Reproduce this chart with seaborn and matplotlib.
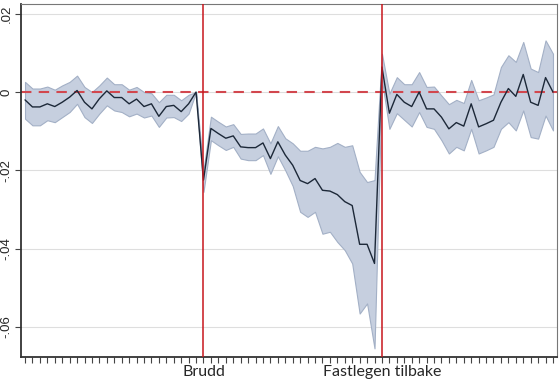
import numpy as np
import pandas as pd
import seaborn as sns
import matplotlib.pyplot as plt

# Event time: 24 periods before break, 24 without GP, 24 after GP returns
periods = list(range(-24, 48))

coef_pre = [-0.0020, -0.0038, -0.0038, -0.0030, -0.0037, -0.0026, -0.0013, 0.0004,
            -0.0026, -0.0043, -0.0017, 0.0003, -0.0014, -0.0014, -0.0030, -0.0018,
            -0.0037, -0.0030, -0.0062, -0.0037, -0.0034, -0.0050, -0.0030, 0.0]
coef_brudd = [-0.0225, -0.0093, -0.0106, -0.0118, -0.0112, -0.0140, -0.0142, -0.0142,
              -0.0130, -0.0170, -0.0127, -0.0161, -0.0187, -0.0226, -0.0234, -0.0221,
              -0.0251, -0.0253, -0.0262, -0.0280, -0.0290, -0.0389, -0.0389, -0.0438]
coef_etter = [0.0064, -0.0054, -0.0006, -0.0026, -0.0037, 0.0, -0.0043, -0.0043,
              -0.0064, -0.0094, -0.0078, -0.0087, -0.0030, -0.0089, -0.0081, -0.0072,
              -0.0026, 0.0009, -0.0011, 0.0045, -0.0026, -0.0034, 0.0037, 0.0]

upper_pre = [0.0026, 0.0009, 0.0009, 0.0014, 0.0006, 0.0017, 0.0026, 0.0042,
             0.0013, 0.0, 0.0017, 0.0037, 0.0020, 0.0020, 0.0006, 0.0013,
             0.0, -0.0003, -0.0026, -0.0007, -0.0007, -0.0021, -0.0007, 0.0]
upper_brudd = [-0.0200, -0.0063, -0.0076, -0.0088, -0.0082, -0.0107, -0.0106, -0.0106,
               -0.0093, -0.0131, -0.0087, -0.0118, -0.0131, -0.0150, -0.0150, -0.0140,
               -0.0144, -0.0140, -0.0130, -0.0140, -0.0136, -0.0204, -0.0230, -0.0225]
upper_etter = [0.0098, -0.0004, 0.0038, 0.0020, 0.0020, 0.0051, 0.0013, 0.0014,
               -0.0009, -0.0031, -0.0020, -0.0028, 0.0031, -0.0021, -0.0014, -0.0006,
               0.0064, 0.0094, 0.0077, 0.0128, 0.0060, 0.0051, 0.0132, 0.0098]

lower_pre = [-0.0068, -0.0085, -0.0085, -0.0072, -0.0077, -0.0064, -0.0051, -0.0030,
             -0.0064, -0.0079, -0.0055, -0.0034, -0.0047, -0.0051, -0.0062, -0.0055,
             -0.0065, -0.0060, -0.0089, -0.0065, -0.0064, -0.0074, -0.0055, 0.0]
lower_brudd = [-0.0255, -0.0123, -0.0136, -0.0148, -0.0140, -0.0170, -0.0174, -0.0174,
               -0.0161, -0.0209, -0.0164, -0.0200, -0.0240, -0.0306, -0.0319, -0.0306,
               -0.0362, -0.0357, -0.0383, -0.0404, -0.0438, -0.0566, -0.0540, -0.0655]
lower_etter = [0.0030, -0.0094, -0.0054, -0.0071, -0.0088, -0.0051, -0.0089, -0.0094,
               -0.0123, -0.0157, -0.0140, -0.0149, -0.0094, -0.0157, -0.0149, -0.0140,
               -0.0094, -0.0077, -0.0098, -0.0047, -0.0115, -0.0119, -0.0060, -0.0098]

event_ticks = [0, 24]
event_labels = ['Brudd', 'Fastlegen tilbake']
ytick_vals = [-0.06, -0.04, -0.02, 0, 0.02]
ytick_labels = ['-.06', '-.04', '-.02', '0', '.02']

df = pd.DataFrame({
    'period': periods,
    'coef': coef_pre + coef_brudd + coef_etter,
    'upper': upper_pre + upper_brudd + upper_etter,
    'lower': lower_pre + lower_brudd + lower_etter,
})

sns.set_style('white')
plt.rcParams['font.family'] = ['Lato', 'DejaVu Sans']

fig = plt.figure(figsize=(5.59, 3.83), dpi=100)
ax = fig.add_axes([21 / 559, 1 - 357 / 383, 536 / 559, 353 / 383])

# grid lines
for v in ytick_vals:
    ax.axhline(v, color='#dedede', lw=0.8, zorder=0)

ax.fill_between(df['period'], df['lower'], df['upper'], color='#c6cfdf',
                edgecolor='#a3b0c6', lw=0.8, zorder=1)
sns.lineplot(data=df, x='period', y='coef', ax=ax, color='#1c2838', lw=1.0, zorder=3)

ax.axhline(0, color='#d2474e', lw=1.5, ls=(0, (5, 3.5)), zorder=2)
for t in event_ticks:
    ax.axvline(t, color='#c8161d', lw=1.1, zorder=4)

ax.set_xlim(-24.54, 47.54)
ax.set_ylim(-0.0677, 0.0225)

ax.set_xticks(periods, minor=True)
ax.set_xticks(event_ticks)
ax.set_xticklabels(event_labels, fontsize=11.5)
ax.tick_params(axis='x', which='both', direction='out', length=4, width=0.8,
               color='#444444', bottom=True, pad=2)

ax.set_yticks(ytick_vals)
ax.set_yticklabels(ytick_labels, rotation=90, va='center', fontsize=9.5,
                   family='Liberation Sans')
ax.tick_params(axis='y', direction='out', length=4, width=0.8, color='#444444',
               left=True, pad=2)

ax.set_xlabel('')
ax.set_ylabel('')
for side in ['top', 'right']:
    ax.spines[side].set_color('#777777')
    ax.spines[side].set_linewidth(0.8)
for side in ['left', 'bottom']:
    ax.spines[side].set_color('#333333')
    ax.spines[side].set_linewidth(1.3)

fig.savefig('out.png', dpi=100)
